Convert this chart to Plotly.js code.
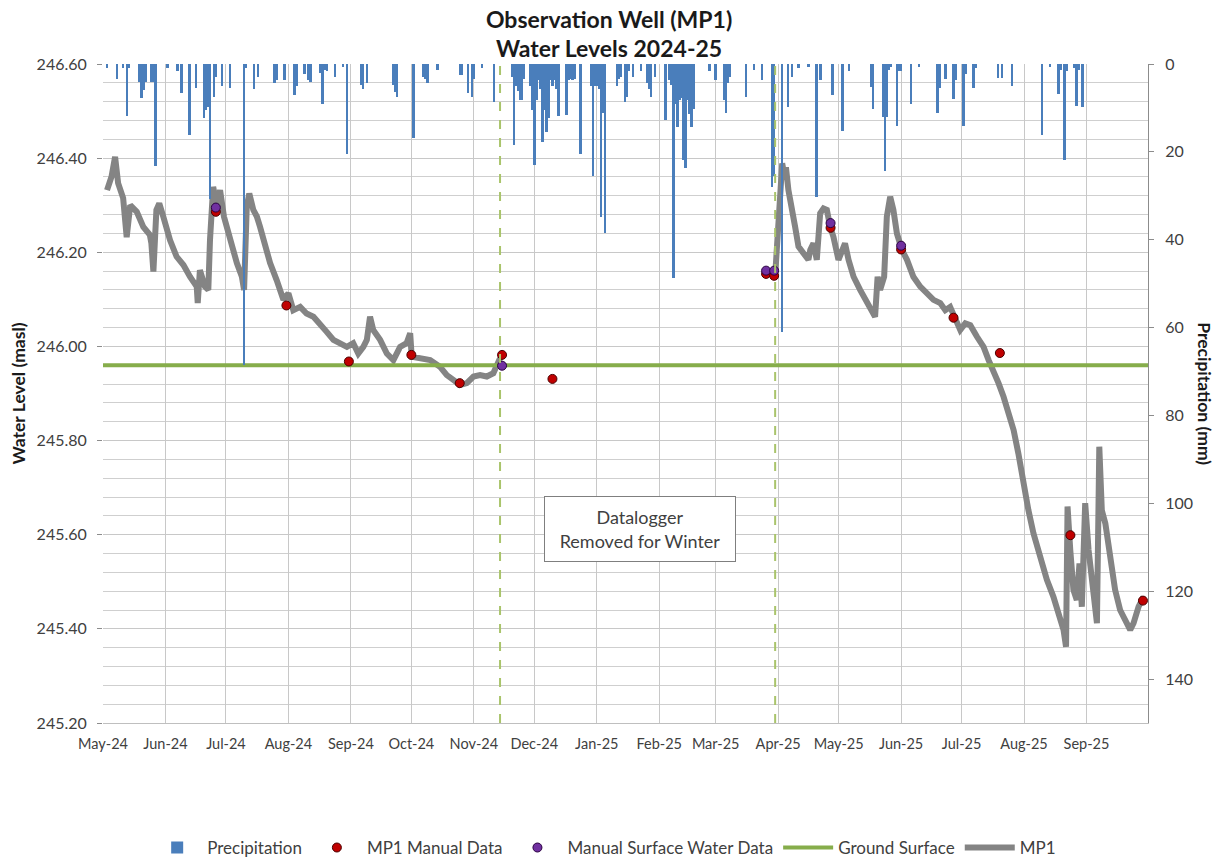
<!DOCTYPE html>
<html><head><meta charset="utf-8">
<script src="https://cdn.plot.ly/plotly-3.0.1.min.js"></script>
<style>html,body{margin:0;padding:0;background:#fff;} #chart{width:1228px;height:860px;}</style>
</head><body><div id="chart"></div>
<script>
// ---------- DATA ----------
const monthTicks = ['2024-05-01','2024-06-01','2024-07-01','2024-08-01','2024-09-01','2024-10-01','2024-11-01','2024-12-01','2025-01-01','2025-02-01','2025-03-01','2025-04-01','2025-05-01','2025-06-01','2025-07-01','2025-08-01','2025-09-01'];
const monthLabels = ['May-24','Jun-24','Jul-24','Aug-24','Sep-24','Oct-24','Nov-24','Dec-24','Jan-25','Feb-25','Mar-25','Apr-25','May-25','Jun-25','Jul-25','Aug-25','Sep-25'];
const xRange = ['2024-05-01','2025-10-01 12:00'];

const precipDates = [
'2024-05-03','2024-05-08','2024-05-11','2024-05-13','2024-05-14','2024-05-19','2024-05-20','2024-05-21','2024-05-22','2024-05-25','2024-05-26','2024-05-27',
'2024-06-02','2024-06-07','2024-06-09','2024-06-13','2024-06-16','2024-06-20','2024-06-21','2024-06-22','2024-06-23','2024-06-25','2024-06-26','2024-06-29',
'2024-07-03','2024-07-10','2024-07-11','2024-07-15','2024-07-17','2024-07-25','2024-07-26','2024-07-30',
'2024-08-04','2024-08-05','2024-08-09','2024-08-11','2024-08-12','2024-08-17','2024-08-18','2024-08-19','2024-08-20','2024-08-24','2024-08-28','2024-08-30',
'2024-09-06','2024-09-07','2024-09-09','2024-09-22','2024-09-23','2024-09-24',
'2024-10-02','2024-10-07','2024-10-08','2024-10-09','2024-10-14','2024-10-25','2024-10-26','2024-10-29','2024-10-31',
'2024-11-01','2024-11-05','2024-11-11','2024-11-20','2024-11-21','2024-11-22','2024-11-23','2024-11-24','2024-11-25','2024-11-26','2024-11-29','2024-11-30',
'2024-12-01','2024-12-02','2024-12-03','2024-12-04','2024-12-05','2024-12-06','2024-12-07','2024-12-08','2024-12-09','2024-12-10','2024-12-11','2024-12-12','2024-12-13','2024-12-17','2024-12-18','2024-12-19','2024-12-20','2024-12-21','2024-12-24','2024-12-29','2024-12-30','2024-12-31',
'2025-01-01','2025-01-02','2025-01-03','2025-01-04','2025-01-05','2025-01-11','2025-01-12','2025-01-13','2025-01-15','2025-01-16','2025-01-17','2025-01-19','2025-01-23','2025-01-26','2025-01-27','2025-01-28','2025-01-30',
'2025-02-04','2025-02-06','2025-02-07','2025-02-08','2025-02-09','2025-02-10','2025-02-11','2025-02-12','2025-02-13','2025-02-14','2025-02-15','2025-02-16','2025-02-17','2025-02-18','2025-02-26',
'2025-03-01','2025-03-05','2025-03-06','2025-03-07','2025-03-08','2025-03-16','2025-03-20','2025-03-24','2025-03-29','2025-03-30',
'2025-04-03','2025-04-06','2025-04-08','2025-04-11','2025-04-16','2025-04-20','2025-04-22','2025-04-28',
'2025-05-03','2025-05-06','2025-05-17','2025-05-18','2025-05-23','2025-05-24','2025-05-25','2025-05-26','2025-05-27','2025-05-30','2025-05-31',
'2025-06-01','2025-06-06','2025-06-10','2025-06-19','2025-06-20','2025-06-23','2025-06-27','2025-06-28',
'2025-07-02','2025-07-03','2025-07-07','2025-07-08','2025-07-19','2025-07-21','2025-07-26',
'2025-08-10','2025-08-14','2025-08-18','2025-08-19','2025-08-21','2025-08-22','2025-08-26','2025-08-27','2025-08-28','2025-08-30'
];
const precipMm = [
0.8,3.5,1.0,11.8,1.0,4.0,7.8,6.0,4.0,4.0,4.0,23.2,
1.0,1.7,6.5,16.2,5.5,12.4,10.5,9.7,30.8,7.4,2.9,5.0,
5.5,68.5,1.0,5.8,3.0,4.4,3.6,3.7,
7.0,5.0,2.3,3.7,4.0,2.0,9.0,1.4,1.6,2.9,0.6,20.5,
4.8,5.8,4.3,4.8,6.3,7.4,
16.9,2.9,3.3,4.3,1.4,2.5,2.5,6.7,7.4,
3.3,1.0,8.6,2.9,18.4,5.1,6.1,8.2,8.2,3.3,5.1,10.5,
23.0,8.2,3.6,5.8,17.7,10.5,15.4,12.4,3.6,5.1,3.6,5.8,11.8,11.6,3.6,3.3,3.6,3.3,20.5,5.0,25.6,5.1,
5.1,5.8,34.8,11.2,38.5,5.0,3.5,2.9,8.6,7.4,1.7,2.9,1.7,4.4,5.8,7.4,2.9,
12.8,3.6,4.7,48.8,9.0,14.3,8.2,7.8,21.9,23.7,8.2,11.4,14.3,10.3,1.7,
3.7,8.2,11.2,4.4,2.9,7.4,1.4,3.6,27.9,25.6,
61.0,9.7,3.0,1.0,0.6,30.3,3.6,7.0,
15.2,1.5,5.3,10.3,12.0,24.3,12.0,1.4,0.6,14.1,1.7,
1.5,9.0,0.6,11.1,5.5,3.3,8.0,3.6,
14.1,2.3,5.5,1.0,3.2,3.2,5.0,
16.2,0.6,6.8,1.4,21.9,1.7,1.0,9.6,1.4,9.8
];

const mp1Dates = [
'2024-05-03 00:00','2024-05-05 06:00','2024-05-07 00:00','2024-05-08 12:00','2024-05-11 00:00','2024-05-12 18:00','2024-05-14 12:00','2024-05-17 18:00','2024-05-21 00:00','2024-05-24 06:00',
'2024-05-25 00:00','2024-05-26 00:00','2024-05-27 12:00','2024-05-28 22:00','2024-05-30 22:00','2024-06-03 06:00','2024-06-06 12:00','2024-06-09 22:00','2024-06-13 04:00','2024-06-16 12:00',
'2024-06-17 00:00','2024-06-18 02:00','2024-06-20 14:00','2024-06-22 06:00','2024-06-23 02:00','2024-06-23 22:00','2024-06-24 16:00','2024-06-26 10:00','2024-06-28 02:00','2024-06-30 00:00',
'2024-07-03 00:00','2024-07-06 10:00','2024-07-08 22:00','2024-07-10 00:00','2024-07-11 08:00','2024-07-12 14:00','2024-07-14 14:00','2024-07-16 08:00','2024-07-17 22:00','2024-07-19 14:00',
'2024-07-22 22:00','2024-07-26 04:00','2024-07-29 12:00','2024-08-01 00:00','2024-08-03 10:00','2024-08-06 20:00','2024-08-10 00:00','2024-08-13 10:00','2024-08-16 16:00','2024-08-20 00:00',
'2024-08-23 08:00','2024-08-26 14:00','2024-08-30 00:00','2024-09-02 04:00','2024-09-04 16:00','2024-09-07 04:00','2024-09-08 22:00','2024-09-10 12:00','2024-09-12 02:00','2024-09-15 12:00',
'2024-09-18 20:00','2024-09-22 02:00','2024-09-25 10:00','2024-09-28 16:00','2024-09-30 10:00','2024-10-01 04:00','2024-10-05 08:00','2024-10-10 08:00','2024-10-15 04:00','2024-10-18 14:00',
'2024-10-21 20:00','2024-10-25 04:00','2024-10-28 12:00','2024-10-31 20:00','2024-11-04 02:00','2024-11-07 10:00','2024-11-10 16:00','2024-11-13 04:00','2024-11-14 00:00',
'2024-11-15 00:00',
'2025-03-30 12:00','2025-04-01 00:00','2025-04-02 08:00','2025-04-03 00:00','2025-04-03 14:00','2025-04-05 00:00','2025-04-06 02:00','2025-04-07 20:00','2025-04-09 10:00','2025-04-11 02:00',
'2025-04-13 12:00','2025-04-16 00:00','2025-04-16 22:00','2025-04-18 12:00','2025-04-20 04:00','2025-04-21 20:00','2025-04-23 12:00','2025-04-25 04:00','2025-04-26 20:00','2025-04-28 10:00',
'2025-04-30 22:00','2025-05-02 14:00','2025-05-04 04:00','2025-05-05 22:00','2025-05-08 10:00','2025-05-11 16:00','2025-05-15 00:00','2025-05-17 12:00','2025-05-19 02:00','2025-05-20 08:00',
'2025-05-21 14:00','2025-05-23 14:00','2025-05-24 22:00','2025-05-26 14:00','2025-05-28 04:00','2025-05-29 22:00','2025-06-01 10:00','2025-06-03 22:00','2025-06-07 02:00','2025-06-10 12:00',
'2025-06-13 20:00','2025-06-17 02:00','2025-06-20 10:00','2025-06-22 22:00','2025-06-25 08:00','2025-06-27 20:00','2025-06-30 08:00','2025-07-02 20:00','2025-07-05 08:00','2025-07-08 14:00',
'2025-07-11 22:00','2025-07-14 10:00','2025-07-16 20:00','2025-07-19 08:00','2025-07-21 20:00','2025-07-24 08:00','2025-07-26 20:00','2025-07-29 04:00','2025-07-31 16:00','2025-08-03 04:00',
'2025-08-05 16:00','2025-08-09 00:00','2025-08-12 08:00','2025-08-15 14:00','2025-08-18 02:00','2025-08-20 14:00','2025-08-21 20:00','2025-08-22 14:00','2025-08-23 22:00','2025-08-25 12:00',
'2025-08-27 04:00','2025-08-28 12:00','2025-08-29 16:00','2025-08-31 08:00','2025-09-02 00:00','2025-09-04 12:00','2025-09-06 04:00','2025-09-07 08:00','2025-09-08 14:00','2025-09-10 08:00',
'2025-09-12 20:00','2025-09-15 04:00','2025-09-17 16:00','2025-09-20 04:00','2025-09-22 16:00','2025-09-24 08:00','2025-09-26 20:00','2025-09-29 08:00'
];
const mp1Levels = [
246.332,246.361,246.403,246.347,246.315,246.232,246.300,246.286,246.254,246.237,
246.219,246.159,246.290,246.304,246.276,246.226,246.191,246.173,246.148,246.127,
246.092,246.162,246.127,246.120,246.226,246.311,246.339,246.297,246.332,246.276,
246.226,246.177,246.148,246.120,246.297,246.325,246.290,246.276,246.254,246.226,
246.177,246.141,246.099,246.113,246.077,246.084,246.070,246.063,246.045,246.031,
246.014,246.007,245.999,246.007,245.985,245.999,246.014,246.063,246.035,246.014,
245.985,245.971,245.999,246.007,246.028,245.978,245.975,245.971,245.957,245.939,
245.929,245.918,245.922,245.936,245.939,245.936,245.943,245.971,245.975,
null,
246.150,246.240,246.339,246.389,246.375,246.375,246.332,246.297,246.254,246.212,
246.198,246.184,246.205,246.219,246.184,246.283,246.293,246.290,246.254,246.233,
246.184,246.205,246.219,246.184,246.148,246.120,246.092,246.077,246.063,246.148,
246.120,246.148,246.276,246.318,246.290,246.240,246.205,246.184,246.148,246.127,
246.113,246.099,246.092,246.077,246.084,246.056,246.035,246.049,246.045,246.021,
245.999,245.971,245.950,245.922,245.893,245.858,245.822,245.773,245.709,245.652,
245.603,245.553,245.504,245.468,245.433,245.398,245.362,245.660,245.568,245.483,
245.461,245.539,245.447,245.667,245.568,245.483,245.412,245.787,245.652,245.624,
245.546,245.483,245.440,245.419,245.398,245.412,245.447,245.468
];

const manualDates = ['2024-06-26','2024-07-31','2024-08-31','2024-10-01','2024-10-25','2024-11-15','2024-12-10','2025-03-26','2025-03-30','2025-04-27','2025-06-01','2025-06-27','2025-07-20','2025-08-24','2025-09-29'];
const manualLevels = [246.286,246.087,245.968,245.982,245.922,245.982,245.931,246.154,246.150,246.252,246.206,246.061,245.986,245.599,245.460];

const surfaceDates = ['2024-06-26','2024-11-15','2025-03-26','2025-03-30','2025-04-27','2025-06-01'];
const surfaceLevels = [246.295,245.959,246.161,246.161,246.262,246.214];

const groundDates = ['2024-05-01','2025-10-01 12:00'];
const groundLevels = [245.96,245.96];

const loggerDates = ['2024-11-14','2025-03-30 12:00'];
const noteDate = '2025-01-22 12:00';
const noteLevel = 245.612;

// ---------- CHART ----------
const FONT = 'Lato, "Open Sans", sans-serif';
const traces = [
  {x: mp1Dates, y: mp1Levels, type:'scatter', mode:'lines', name:'MP1',
   line:{color:'#848484', width:6}, connectgaps:false, legendrank:5},
  {x: groundDates, y: groundLevels, type:'scatter', mode:'lines', name:'Ground Surface',
   line:{color:'#86AD4B', width:4}, legendrank:4},
  {x: manualDates, y: manualLevels, type:'scatter', mode:'markers', name:'MP1 Manual Data',
   marker:{color:'#C00000', size:9, line:{color:'#4a0000', width:1}}, legendrank:2},
  {x: surfaceDates, y: surfaceLevels, type:'scatter', mode:'markers', name:'Manual Surface Water Data',
   marker:{color:'#7030A0', size:9, line:{color:'#2a0040', width:1}}, legendrank:3},
  {x: precipDates, y: precipMm, type:'bar', name:'Precipitation', yaxis:'y2',
   marker:{color:'#4A7EBB', line:{width:0}}, width:1.2*86400000, legendrank:1}
];

const shapes = loggerDates.map(d => ({
  type:'line', xref:'x', yref:'paper', x0:d, x1:d, y0:0, y1:1,
  line:{color:'#A9C46B', width:2, dash:'dash'}
}));

const layout = {
  width:1228, height:860,
  paper_bgcolor:'#ffffff', plot_bgcolor:'#ffffff',
  margin:{l:103, r:80, t:64, b:137},
  font:{family:FONT, color:'#404040', size:16},
  title:{text:'<b>Observation Well (MP1)<br>Water Levels 2024-25</b>', font:{family:FONT, size:23, color:'#1a1a1a'},
         x:0.496, xref:'container', xanchor:'center', y:0.968, yref:'container', yanchor:'middle'},
  showlegend:true,
  legend:{orientation:'h', x:0.492, xref:'container', xanchor:'center', y:0.014, yref:'container', yanchor:'middle',
          font:{family:FONT, size:17, color:'#404040'}, traceorder:'normal', itemwidth:50},
  bargap:0,
  xaxis:{type:'date', range:xRange, tickvals:monthTicks, ticktext:monthLabels,
         showgrid:true, gridcolor:'#C8C8C8', gridwidth:1, ticks:'', tickfont:{size:14.5}, ticklabelstandoff:8,
         showline:true, linecolor:'#BFBFBF', zeroline:false},
  yaxis:{range:[245.2,246.6], dtick:0.2, tick0:245.2, tickformat:'.2f', showgrid:true, gridcolor:'#C8C8C8', gridwidth:1,
         minor:{dtick:0.04, showgrid:true, gridcolor:'#CFCFCF', gridwidth:1, ticks:''},
         ticks:'outside', ticklen:5, tickcolor:'#8c8c8c', zeroline:false, showline:false, ticklabelstandoff:7,
         title:{text:'<b>Water Level (masl)</b>', font:{size:17.5, color:'#1a1a1a'}, standoff:6}},
  yaxis2:{overlaying:'y', side:'right', range:[150,0], dtick:20, tick0:0, showgrid:false, zeroline:false,
          ticks:'outside', ticklen:5, tickcolor:'#8c8c8c', showline:true, linecolor:'#8c8c8c', linewidth:1, ticklabelstandoff:8},
  shapes: shapes,
  annotations:[
    {xref:'x', yref:'y', x:noteDate, y:noteLevel, text:'Datalogger<br>Removed for Winter', showarrow:false,
     font:{family:FONT, size:18, color:'#404040'}, bordercolor:'#7f7f7f', borderwidth:1, borderpad:3,
     bgcolor:'#ffffff', width:184, height:58},
    {xref:'paper', yref:'paper', x:1.0545, xanchor:'center', y:0.499, yanchor:'middle', text:'<b>Precipitation (mm)</b>', textangle:90, showarrow:false,
     font:{family:FONT, size:17.5, color:'#1a1a1a'}}
  ]
};

Plotly.newPlot('chart', traces, layout, {displayModeBar:false, staticPlot:true});
</script></body></html>
